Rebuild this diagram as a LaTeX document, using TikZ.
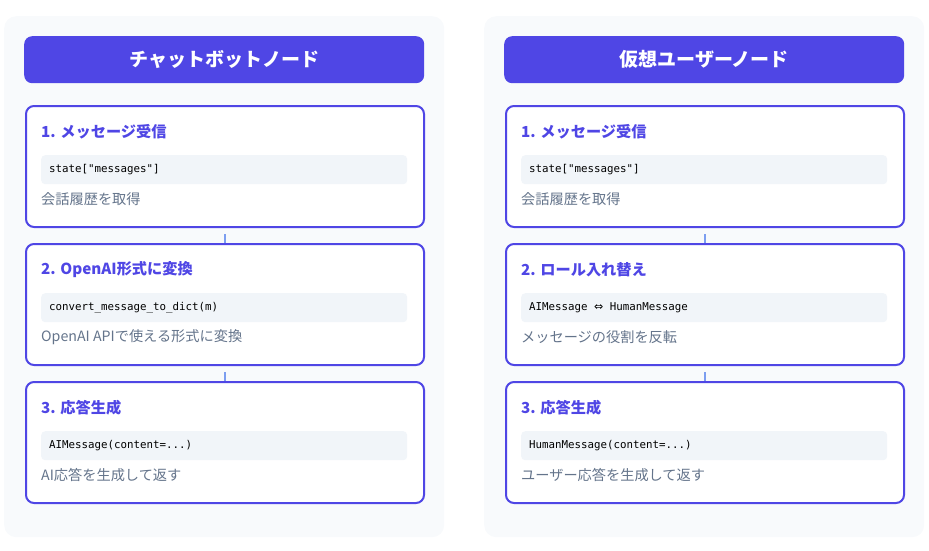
\documentclass[tikz,border=0pt]{standalone}
\usepackage{fontspec}
\setmainfont{Noto Sans CJK JP}
\setmonofont{DejaVu Sans Mono}
\newfontfamily\arrowfont{DejaVu Sans}
\definecolor{indigo}{HTML}{4F46E5}
\definecolor{panelbg}{HTML}{F8FAFC}
\definecolor{codebg}{HTML}{F1F5F9}
\definecolor{graytext}{HTML}{64748B}
\definecolor{linkcol}{HTML}{7C9EF0}

\tikzset{
  panel/.style={fill=panelbg, rounded corners=12pt, minimum width=440pt, minimum height=521pt, anchor=north west, inner sep=0pt},
  header/.style={fill=indigo, rounded corners=8pt, minimum width=400pt, minimum height=47pt, anchor=north west,
    text=white, font=\fontsize{19}{21}\selectfont\bfseries},
  stepbox/.style={draw=indigo, line width=2pt, fill=white, rounded corners=8pt, minimum width=398pt, minimum height=121pt, anchor=north west, inner sep=0pt},
  steptitle/.style={anchor=west, inner sep=0pt, text=indigo, font=\fontsize{15.2}{17}\selectfont\bfseries},
  codebox/.style={fill=codebg, rounded corners=4pt, minimum height=29pt, text width=350pt, inner xsep=8pt, inner ysep=0pt,
    anchor=north west, align=left, font=\fontsize{10.8}{12}\ttfamily},
  desc/.style={anchor=west, inner sep=0pt, text=graytext, font=\fontsize{14.2}{16}\selectfont},
  link/.style={draw=linkcol, line width=1.5pt, shorten <=6pt}
}

\begin{document}
\begin{tikzpicture}[x=1pt,y=-1pt]
  \useasboundingbox (0,0) rectangle (929,550);

  % chatbot node
  \node[panel] (lpanel) at (4,16) {};
  \node[header] (lhead) at (24,36) {チャットボットノード};

  \node[stepbox] (l1) at (25,105) {};
  \node[steptitle] (l1t) at (41,132) {1. メッセージ受信};
  \node[codebox] (l1c) at (41,155) {state["messages"]};
  \node[desc] (l1d) at (41,199) {会話履歴を取得};

  \node[stepbox] (l2) at (25,243) {};
  \node[steptitle] (l2t) at (41,270) {2. OpenAI形式に変換};
  \node[codebox] (l2c) at (41,293) {convert\_message\_to\_dict(m)};
  \node[desc] (l2d) at (41,337) {OpenAI APIで使える形式に変換};

  \node[stepbox] (l3) at (25,381) {};
  \node[steptitle] (l3t) at (41,408) {3. 応答生成};
  \node[codebox] (l3c) at (41,431) {AIMessage(content=...)};
  \node[desc] (l3d) at (41,475) {AI応答を生成して返す};

  % virtual user node
  \node[panel] (rpanel) at (484,16) {};
  \node[header] (rhead) at (504,36) {仮想ユーザーノード};

  \node[stepbox] (r1) at (505,105) {};
  \node[steptitle] (r1t) at (521,132) {1. メッセージ受信};
  \node[codebox] (r1c) at (521,155) {state["messages"]};
  \node[desc] (r1d) at (521,199) {会話履歴を取得};

  \node[stepbox] (r2) at (505,243) {};
  \node[steptitle] (r2t) at (521,270) {2. ロール入れ替え};
  \node[codebox] (r2c) at (521,293) {AIMessage\hspace{6.5pt}{\arrowfont\fontsize{11}{12}\selectfont ⇔}\hspace{6.5pt}HumanMessage};
  \node[desc] (r2d) at (521,337) {メッセージの役割を反転};

  \node[stepbox] (r3) at (505,381) {};
  \node[steptitle] (r3t) at (521,408) {3. 応答生成};
  \node[codebox] (r3c) at (521,431) {HumanMessage(content=...)};
  \node[desc] (r3d) at (521,475) {ユーザー応答を生成して返す};

  \foreach \a/\b in {l1/l2, l2/l3, r1/r2, r2/r3}
    \draw[link] (\a.south) -- (\b.north);
\end{tikzpicture}
\end{document}
